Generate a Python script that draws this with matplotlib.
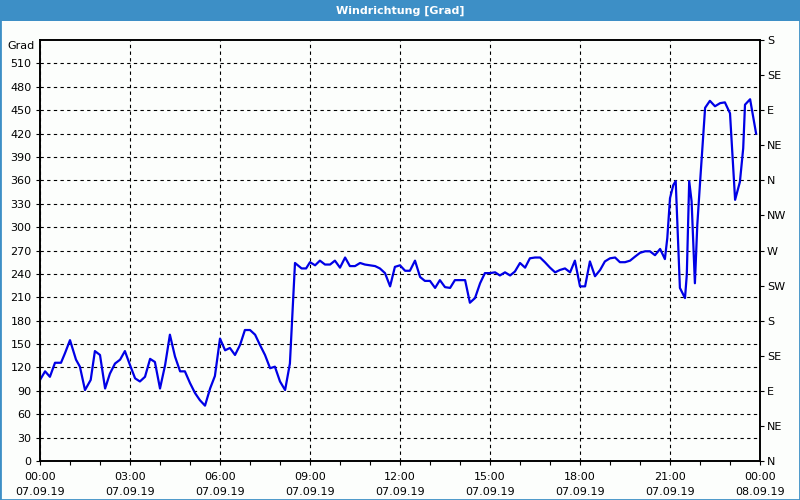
import numpy as np
import matplotlib.pyplot as plt
from matplotlib.patches import Rectangle

# Windrichtung, 07.09.19 (Stunden seit 00:00, Grad)
hours = [0.0, 0.17, 0.33, 0.5, 0.7, 0.83, 1.0, 1.2, 1.33, 1.5, 1.69, 1.83, 2.0, 2.17, 2.33,
         2.5, 2.67, 2.83, 3.0, 3.17, 3.33, 3.5, 3.67, 3.83, 4.0, 4.17, 4.33, 4.5, 4.67,
         4.83, 5.0, 5.17, 5.33, 5.5, 5.67, 5.83, 6.0, 6.17, 6.33, 6.5, 6.67, 6.83, 7.0,
         7.17, 7.33, 7.5, 7.67, 7.83, 8.0, 8.17, 8.33, 8.5, 8.72, 8.87, 9.0, 9.17, 9.33,
         9.5, 9.67, 9.83, 10.0, 10.17, 10.33, 10.5, 10.67, 10.83, 11.0, 11.17, 11.33,
         11.5, 11.67, 11.83, 12.0, 12.17, 12.33, 12.5, 12.67, 12.83, 13.0, 13.17, 13.33,
         13.5, 13.67, 13.83, 14.0, 14.17, 14.33, 14.5, 14.67, 14.83, 15.0, 15.17, 15.33,
         15.5, 15.67, 15.83, 16.0, 16.17, 16.33, 16.5, 16.67, 16.83, 17.0, 17.17, 17.33,
         17.5, 17.67, 17.83, 18.0, 18.17, 18.33, 18.5, 18.67, 18.83, 19.0, 19.17, 19.33,
         19.5, 19.67, 19.83, 20.0, 20.17, 20.33, 20.5, 20.67, 20.83, 20.91, 21.0, 21.11,
         21.19, 21.28, 21.33, 21.5, 21.56, 21.64, 21.72, 21.83, 21.91, 22.0, 22.11, 22.17,
         22.33, 22.5, 22.67, 22.83, 23.0, 23.06, 23.17, 23.33, 23.44, 23.5, 23.67, 23.78,
         23.87]
degrees = [104, 115, 108, 126, 126, 138, 155, 130, 121, 91, 104, 141, 136, 93, 112,
           125, 130, 141, 123, 106, 102, 108, 131, 127, 93, 123, 162, 134, 115,
           115, 100, 87, 78, 71, 93, 109, 157, 142, 145, 136, 149, 168, 168,
           162, 149, 136, 119, 121, 102, 91, 125, 254, 247, 247, 255, 251, 257,
           252, 252, 257, 248, 261, 250, 250, 254, 252, 251, 250, 247,
           241, 224, 249, 251, 244, 244, 257, 236, 231, 231, 222, 232,
           223, 222, 232, 232, 232, 203, 209, 228, 241, 241, 242, 238,
           242, 238, 243, 254, 248, 260, 261, 261, 255, 248, 242, 245,
           247, 242, 257, 224, 224, 256, 237, 245, 256, 260, 261, 255,
           255, 257, 262, 267, 269, 269, 264, 272, 259, 286, 337, 354,
           359, 273, 222, 209, 239, 359, 333, 228, 303, 356, 418, 453,
           462, 455, 459, 460, 446, 406, 335, 358, 401, 457, 464, 440,
           420]

x_ticks = [0, 3, 6, 9, 12, 15, 18, 21, 24]
x_labels = ['00:00\n07.09.19', '03:00\n07.09.19', '06:00\n07.09.19', '09:00\n07.09.19',
            '12:00\n07.09.19', '15:00\n07.09.19', '18:00\n07.09.19', '21:00\n07.09.19',
            '00:00\n08.09.19']
y_ticks = list(range(0, 511, 30))
compass_ticks = list(range(0, 541, 45))
compass_labels = ['N', 'NE', 'E', 'SE', 'S', 'SW', 'W', 'NW', 'N', 'NE', 'E', 'SE', 'S']

blue_bar = '#3d8fc6'
bg = '#fcfefc'

fig = plt.figure(figsize=(8, 5), dpi=100, facecolor=bg)

# Fensterrahmen und Titelleiste
fig.patches.append(Rectangle((0, 0), 1, 1, transform=fig.transFigure, fill=False,
                             edgecolor=blue_bar, linewidth=2))
fig.patches.append(Rectangle((0, 1 - 21 / 500), 1, 21 / 500, transform=fig.transFigure,
                             facecolor=blue_bar, edgecolor='none'))
fig.text(0.5, 1 - 10.5 / 500, 'Windrichtung [Grad]', color='white', fontsize=8,
         fontweight='bold', ha='center', va='center')

ax = fig.add_axes([40 / 800, 39 / 500, 720 / 800, 421 / 500])
ax.set_facecolor(bg)
ax.plot(hours, degrees, color='#0000e6', linewidth=1.6)

ax.set_xlim(0, 24)
ax.set_ylim(0, 540)
ax.set_xticks(x_ticks)
ax.set_xticklabels(x_labels, fontsize=8, linespacing=1.55)
ax.set_xticks(np.arange(0, 25, 1), minor=True)
ax.set_yticks(y_ticks)
ax.set_yticklabels([str(v) for v in y_ticks], fontsize=8)
ax.tick_params(axis='both', which='both', direction='out', length=3, width=0.8, pad=3)
ax.tick_params(axis='x', which='major', pad=5)
ax.grid(True, which='major', color='black', linestyle=(0, (3, 3)), linewidth=0.8)
for s in ax.spines.values():
    s.set_linewidth(1.2)
ax.text(-0.008, 0.985, 'Grad', transform=ax.transAxes, ha='right', va='center', fontsize=8)

ax2 = ax.twinx()
ax2.set_ylim(0, 540)
ax2.set_yticks(compass_ticks)
ax2.set_yticklabels(compass_labels, fontsize=8)
ax2.tick_params(axis='y', direction='out', length=3, width=0.8, pad=2)
for s in ax2.spines.values():
    s.set_linewidth(1.2)

fig.savefig('out.png', dpi=100, facecolor=bg)
